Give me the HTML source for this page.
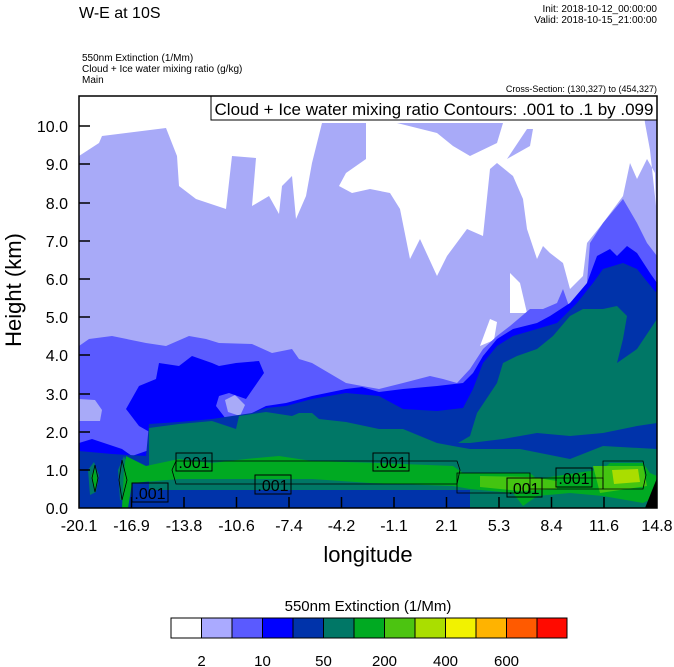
<!DOCTYPE html>
<html><head><meta charset="utf-8"><style>
body{margin:0;background:#fff;}
svg{display:block;font-family:"Liberation Sans",sans-serif;}
</style></head><body>
<svg width="674" height="667" viewBox="0 0 674 667" xmlns="http://www.w3.org/2000/svg">
<text x="79" y="18" font-size="16">W-E at 10S</text>
<text x="657" y="12" font-size="10" text-anchor="end">Init: 2018-10-12_00:00:00</text>
<text x="657" y="23" font-size="10" text-anchor="end">Valid: 2018-10-15_21:00:00</text>
<text x="82" y="61" font-size="10">550nm Extinction   (1/Mm)</text>
<text x="82" y="72" font-size="10">Cloud + Ice water mixing ratio   (g/kg)</text>
<text x="82" y="83" font-size="10">Main</text>
<text x="657" y="92" font-size="9" text-anchor="end">Cross-Section: (130,327) to (454,327)</text>
<defs><clipPath id="c"><rect x="79" y="96" width="578" height="412"/></clipPath></defs>
<g clip-path="url(#c)">
<rect x="79" y="96" width="578" height="412" fill="#a8aaf8"/>
<polygon fill="#ffffff" points="79,96 79,156 99,143 102,136 166,128 177,156 179,186 196,199 226,209 232,156 256,158 252,206 269,196 279,214 282,186 292,176 296,219 306,196 312,163 322,123 366,123 366,159 346,173 339,186 352,193 370,189 390,193 400,209 410,259 420,239 437,276 447,256 467,229 483,236 490,169 497,163 513,176 523,199 527,229 537,259 543,246 550,253 563,263 570,289 583,276 587,243 603,223 623,196 630,163 637,179 647,159 655,173 656,206 650,150 645,123 642,96"/>
<rect x="79" y="96" width="563" height="27" fill="#ffffff"/>
<polygon fill="#a8aaf8" points="397,123 503,123 497,143 470,156 453,146 437,133"/>
<polygon fill="#a8aaf8" points="507,159 527,129 533,129 530,146"/>
<polygon fill="#ffffff" points="510,273 520,283 527,313 510,313"/>
<polygon fill="#ffffff" points="490,319 497,322 494,340 480,346"/>
<polygon fill="#5a5aff" points="79,346 89,339 112,336 146,343 166,346 189,336 206,339 219,343 252,344 272,353 292,349 299,359 312,363 329,373 346,383 362,386 379,389 403,383 430,376 443,379 457,383 470,369 483,349 497,336 510,326 530,309 543,309 557,303 563,289 570,309 587,283 590,243 603,223 623,199 637,223 647,243 657,256 657,508 79,508"/>
<polygon fill="#a8aaf8" points="79,399 95,400 102,410 100,421 79,421"/>
<polygon fill="#a8aaf8" points="225,400 235,395 245,405 240,416 228,412"/>
<polygon fill="#0000ff" points="79,443 92,439 122,449 132,456 152,449 166,446 162,439 139,426 126,409 139,386 156,379 159,363 179,366 192,356 212,363 219,366 236,363 259,361 264,373 246,399 229,393 219,396 216,406 226,419 246,416 266,406 286,403 312,396 346,389 362,387 379,392 403,389 437,386 463,383 473,373 483,356 497,339 513,329 537,323 550,316 570,303 587,283 597,256 610,249 617,256 627,246 637,253 650,273 657,283 657,508 79,508"/>
<polygon fill="#0033aa" points="79,451 112,454 146,456 149,424 179,422 212,419 232,416 252,413 266,408 286,406 312,399 346,393 379,396 403,409 437,411 463,408 473,389 483,363 497,346 513,336 537,329 557,323 577,303 593,283 603,269 623,263 637,269 653,289 657,293 657,508 79,508"/>
<polygon fill="#007766" points="149,428 179,424 212,421 236,429 239,416 266,412 292,416 299,413 312,413 319,419 346,422 379,429 403,429 437,443 453,446 470,436 477,413 497,383 503,363 517,356 537,349 553,336 570,316 583,309 603,309 617,306 627,316 623,339 617,363 637,349 657,319 657,508 470,508 470,490 149,490"/>
<polygon fill="#0033aa" points="453,443 470,443 503,439 537,433 570,436 603,433 637,426 657,423 657,449 603,446 570,459 520,449 470,449 453,446"/>
<polygon fill="#007766" points="88,470 94,462 99,475 96,492 90,495"/>
<polygon fill="#007766" points="118,470 124,456 130,470 128,500 120,500"/>
<polygon fill="#00aa22" points="124,470 126,456 146,466 179,459 212,463 246,459 279,456 312,461 379,463 453,466 463,473 530,473 537,479 557,476 603,469 610,463 643,463 650,473 657,476 657,496 643,503 603,496 570,493 537,496 523,506 513,493 470,489 453,486 370,483 312,479 246,479 179,479 132,483 128,508 122,508"/>
<polygon fill="#00aa22" points="91,476 95,468 98,482 95,492"/>
<polygon fill="#44c411" points="480,476 530,477 557,481 557,489 520,491 480,487"/>
<polygon fill="#44c411" points="593,466 643,466 647,486 600,493"/>
<polygon fill="#aadd00" points="612,470 638,469 640,482 614,484"/>
<polygon fill="#000" points="645,508 657,478 657,508"/>
<g fill="none" stroke="#000" stroke-width="0.8">
<path d="M176,461 L457,461 L460,470 L457,484 L176,484 L172,470 Z"/>
<path d="M457,473 L530,473 L530,493 L457,493 Z"/>
<path d="M530,478 L603,478 L603,489 L530,489"/>
<path d="M603,461 L643,461 L646,475 L643,489 L603,489 Z"/>
<path d="M95,465 L98,478 L95,492 L92,478 Z"/>
<path d="M122,460 L127,480 L122,500 L119,480 Z"/>
</g>
<g fill="none" stroke="#000" stroke-width="1">
<rect x="176" y="453" width="36" height="18"/>
<rect x="132" y="483" width="36" height="19"/>
<rect x="255" y="475" width="36" height="19"/>
<rect x="373" y="453" width="36" height="18"/>
<rect x="507" y="478" width="35" height="19"/>
<rect x="556" y="468" width="36" height="19"/>
</g>
<g font-size="16" text-anchor="middle">
<text x="194" y="468">.001</text>
<text x="150" y="499">.001</text>
<text x="273" y="491">.001</text>
<text x="391" y="468">.001</text>
<text x="524" y="494">.001</text>
<text x="574" y="484">.001</text>
</g>
</g>
<rect x="211" y="96" width="446" height="24" fill="#fff" stroke="#000" stroke-width="1"/>
<text x="434" y="115" font-size="17" text-anchor="middle">Cloud + Ice water mixing ratio Contours: .001 to .1 by .099</text>
<rect x="79" y="96" width="578" height="412" fill="none" stroke="#000" stroke-width="1.5"/>
<g stroke="#000" stroke-width="1.5">
<line x1="79" y1="126" x2="90" y2="126"/><line x1="79" y1="164" x2="90" y2="164"/><line x1="79" y1="203" x2="90" y2="203"/><line x1="79" y1="241" x2="90" y2="241"/><line x1="79" y1="279" x2="90" y2="279"/><line x1="79" y1="317" x2="90" y2="317"/><line x1="79" y1="355" x2="90" y2="355"/><line x1="79" y1="394" x2="90" y2="394"/><line x1="79" y1="432" x2="90" y2="432"/><line x1="79" y1="470" x2="90" y2="470"/>
<line x1="131.5" y1="508" x2="131.5" y2="497"/><line x1="184" y1="508" x2="184" y2="497"/><line x1="236.5" y1="508" x2="236.5" y2="497"/><line x1="289" y1="508" x2="289" y2="497"/><line x1="341.5" y1="508" x2="341.5" y2="497"/><line x1="394" y1="508" x2="394" y2="497"/><line x1="446.5" y1="508" x2="446.5" y2="497"/><line x1="499" y1="508" x2="499" y2="497"/><line x1="551.5" y1="508" x2="551.5" y2="497"/><line x1="604" y1="508" x2="604" y2="497"/>
</g>
<g font-size="16" text-anchor="end">
<text x="68" y="132">10.0</text><text x="68" y="170">9.0</text><text x="68" y="209">8.0</text><text x="68" y="247">7.0</text><text x="68" y="285">6.0</text><text x="68" y="323">5.0</text><text x="68" y="361">4.0</text><text x="68" y="400">3.0</text><text x="68" y="438">2.0</text><text x="68" y="476">1.0</text><text x="68" y="514">0.0</text>
</g>
<g font-size="16" text-anchor="middle">
<text x="79" y="531">-20.1</text><text x="131.5" y="531">-16.9</text><text x="184" y="531">-13.8</text><text x="236.5" y="531">-10.6</text><text x="289" y="531">-7.4</text><text x="341.5" y="531">-4.2</text><text x="394" y="531">-1.1</text><text x="446.5" y="531">2.1</text><text x="499" y="531">5.3</text><text x="551.5" y="531">8.4</text><text x="604" y="531">11.6</text><text x="657" y="531">14.8</text>
</g>
<text x="368" y="562" font-size="22" text-anchor="middle">longitude</text>
<text transform="translate(21,290) rotate(-90)" font-size="22" text-anchor="middle">Height (km)</text>
<text x="368" y="611" font-size="15" text-anchor="middle">550nm Extinction  (1/Mm)</text>
<g stroke="#000" stroke-width="1">
<rect x="171" y="618" width="30.5" height="20" fill="#ffffff"/>
<rect x="201.5" y="618" width="30.5" height="20" fill="#aaaaff"/>
<rect x="232" y="618" width="30.5" height="20" fill="#5a5aff"/>
<rect x="262.5" y="618" width="30.5" height="20" fill="#0000ff"/>
<rect x="293" y="618" width="30.5" height="20" fill="#0033aa"/>
<rect x="323.5" y="618" width="30.5" height="20" fill="#007766"/>
<rect x="354" y="618" width="30.5" height="20" fill="#00aa22"/>
<rect x="384.5" y="618" width="30.5" height="20" fill="#4cc411"/>
<rect x="415" y="618" width="30.5" height="20" fill="#aade00"/>
<rect x="445.5" y="618" width="30.5" height="20" fill="#f2f200"/>
<rect x="476" y="618" width="30.5" height="20" fill="#ffb300"/>
<rect x="506.5" y="618" width="30.5" height="20" fill="#ff5a00"/>
<rect x="537" y="618" width="30" height="20" fill="#ff0a00"/>
</g>
<g font-size="15" text-anchor="middle">
<text x="201.5" y="666">2</text><text x="262.5" y="666">10</text><text x="323.5" y="666">50</text><text x="384.5" y="666">200</text><text x="445.5" y="666">400</text><text x="506.5" y="666">600</text>
</g>
</svg>
</body></html>
